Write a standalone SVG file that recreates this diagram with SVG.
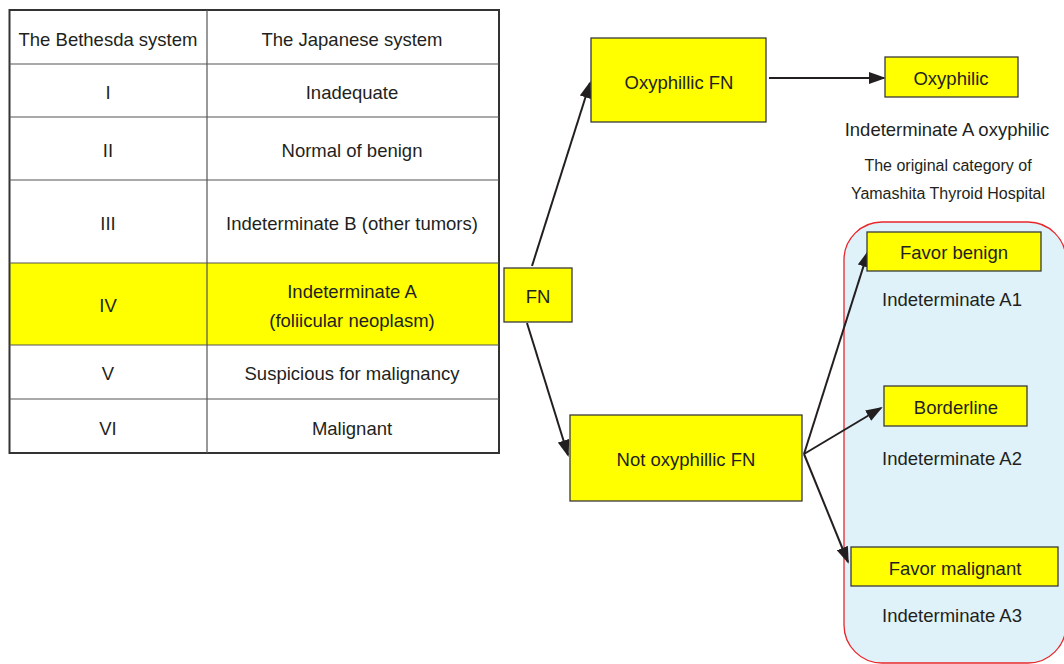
<svg xmlns="http://www.w3.org/2000/svg" width="1064" height="664" viewBox="0 0 1064 664">
<defs>
<style>
text{font-family:"Liberation Sans",Arial,sans-serif;font-size:18.5px;fill:#231f20;text-anchor:middle}
.small{font-size:16px}
.box{fill:#ffff00;stroke:#3a3a3a;stroke-width:1.3}
.grid{stroke:#555;stroke-width:1.2;fill:none}
.conn{stroke:#231f20;stroke-width:2;fill:none}
</style>
<marker id="ah" markerUnits="userSpaceOnUse" markerWidth="18" markerHeight="12" refX="15" refY="6" orient="auto">
<path d="M0,0 L17,6 L0,12 z" fill="#231f20"/>
</marker>
</defs>
<rect width="1064" height="664" fill="#ffffff"/>

<g id="table">
<rect x="9.5" y="263" width="489.5" height="82" fill="#ffff00"/>
<rect x="9.5" y="10" width="489.5" height="443" fill="none" stroke="#333" stroke-width="2"/>
<path class="grid" d="M207,10 V453 M9.5,64 H499 M9.5,117 H499 M9.5,180 H499 M9.5,263 H499 M9.5,345 H499 M9.5,399 H499"/>
<text x="108" y="46">The Bethesda system</text>
<text x="352" y="46">The Japanese system</text>
<text x="108" y="99">I</text>
<text x="352" y="99">Inadequate</text>
<text x="108" y="157">II</text>
<text x="352" y="157">Normal of benign</text>
<text x="108" y="230">III</text>
<text x="352" y="230">Indeterminate B (other tumors)</text>
<text x="108" y="312">IV</text>
<text x="352" y="298">Indeterminate A</text>
<text x="352" y="327">(foliicular neoplasm)</text>
<text x="108" y="380">V</text>
<text x="352" y="380">Suspicious for malignancy</text>
<text x="108" y="435">VI</text>
<text x="352" y="435">Malignant</text>
</g>

<g id="group-a">
<rect x="844" y="222" width="222" height="441" rx="38" ry="38" fill="#dff2fa" stroke="#e8262b" stroke-width="1.3"/>
</g>

<g id="connectors">
<line class="conn" x1="532" y1="266" x2="590" y2="83" marker-end="url(#ah)"/>
<line class="conn" x1="527" y1="323" x2="568" y2="455" marker-end="url(#ah)"/>
<line class="conn" x1="769" y1="78" x2="884" y2="78" marker-end="url(#ah)"/>
<line class="conn" x1="804" y1="454" x2="868" y2="252" marker-end="url(#ah)"/>
<line class="conn" x1="804" y1="454" x2="881" y2="408" marker-end="url(#ah)"/>
<line class="conn" x1="804" y1="454" x2="848" y2="562" marker-end="url(#ah)"/>
</g>

<g id="fn">
<rect class="box" x="504" y="268" width="68" height="54"/>
<text x="538" y="303">FN</text>
</g>
<g id="oxyphillic-fn">
<rect class="box" x="591" y="38" width="175" height="84"/>
<text x="679" y="89">Oxyphillic FN</text>
</g>
<g id="oxyphilic">
<rect class="box" x="885" y="57" width="133" height="40"/>
<text x="951" y="85">Oxyphilic</text>
<text x="947" y="136">Indeterminate A oxyphilic</text>
<text class="small" x="948" y="171">The original category of</text>
<text class="small" x="948" y="199">Yamashita Thyroid Hospital</text>
</g>
<g id="not-oxyphillic-fn">
<rect class="box" x="570" y="415" width="232" height="86"/>
<text x="686" y="466">Not oxyphillic FN</text>
</g>
<g id="favor-benign">
<rect class="box" x="867" y="232" width="174" height="39"/>
<text x="954" y="259">Favor benign</text>
<text x="952" y="306">Indeterminate A1</text>
</g>
<g id="borderline">
<rect class="box" x="884" y="386" width="143" height="40"/>
<text x="956" y="414">Borderline</text>
<text x="952" y="465">Indeterminate A2</text>
</g>
<g id="favor-malignant">
<rect class="box" x="851" y="547" width="207" height="39"/>
<text x="955" y="575">Favor malignant</text>
<text x="952" y="622">Indeterminate A3</text>
</g>
</svg>
